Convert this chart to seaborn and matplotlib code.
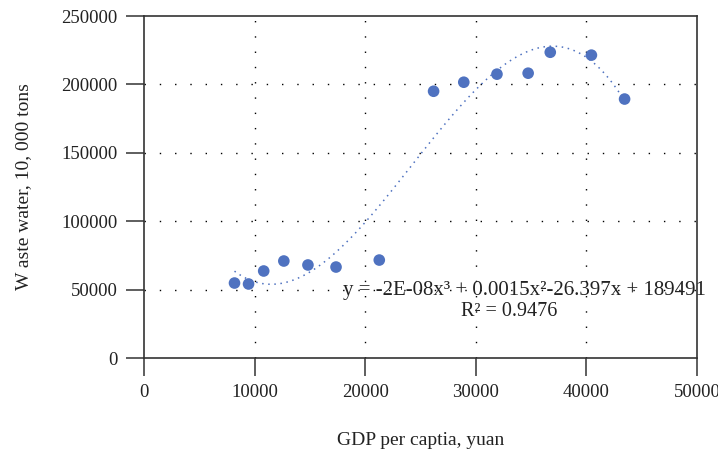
import numpy as np
import pandas as pd
import matplotlib.pyplot as plt
import seaborn as sns

# data
gdp = [8180, 9450, 10820, 12640, 14820, 17360, 21270,
       26180, 28910, 31910, 34730, 36730, 40450, 43450]
waste = [54800, 54100, 63600, 70900, 68000, 66500, 71600,
         195000, 201600, 207500, 208200, 223500, 221400, 189300]
x_ticks = [0, 10000, 20000, 30000, 40000, 50000]
y_ticks = [0, 50000, 100000, 150000, 200000, 250000]

df = pd.DataFrame({'gdp': gdp, 'waste': waste})

sns.set_style('white')
plt.rcParams['font.family'] = ['Liberation Serif', 'DejaVu Serif']

fig = plt.figure(figsize=(7.18, 4.51), dpi=100)
ax = fig.add_axes([0.2006, 0.2062, 0.7702, 0.7583])

blue = '#4f72c0'
sns.regplot(data=df, x='gdp', y='waste', order=3, ci=None, ax=ax,
            scatter_kws=dict(s=70, color=blue, alpha=1, edgecolor='none'),
            line_kws=dict(color=blue, lw=1.1, ls=(0, (1, 3))))

ax.set_xlim(0, 50000)
ax.set_ylim(0, 250000)
ax.set_xticks(x_ticks)
ax.set_yticks(y_ticks)
ax.set_xticklabels([str(v) for v in x_ticks])
ax.set_yticklabels([str(v) for v in y_ticks])

# dotted grid only inside
for v in x_ticks[1:-1]:
    ax.axvline(v, color='black', lw=1, ls=(0, (1, 10)), zorder=0)
for v in y_ticks[1:-1]:
    ax.axhline(v, color='black', lw=1, ls=(0, (1, 10)), zorder=0)

for s in ax.spines.values():
    s.set_color('#333333')
    s.set_linewidth(1.2)

ax.tick_params(axis='both', direction='out', length=13, width=1.1,
               color='#333333', labelsize=13.5, labelcolor='#222222', pad=6,
               bottom=True, left=True)

ax.set_xlabel('GDP per captia, yuan', fontsize=14, color='#222222', labelpad=22)
ax.set_ylabel('W aste water, 10, 000 tons', fontsize=14, color='#222222', labelpad=21)

ax.text(0.688, 0.196, 'y = -2E-08x³ + 0.0015x²-26.397x + 189491',
        transform=ax.transAxes, ha='center', va='center', fontsize=15,
        color='#222222')
ax.text(0.748, 0.136, 'R² = 0.9476', transform=ax.transAxes,
        ha='right', va='center', fontsize=14.5, color='#222222')

fig.savefig('out.png', dpi=100)
